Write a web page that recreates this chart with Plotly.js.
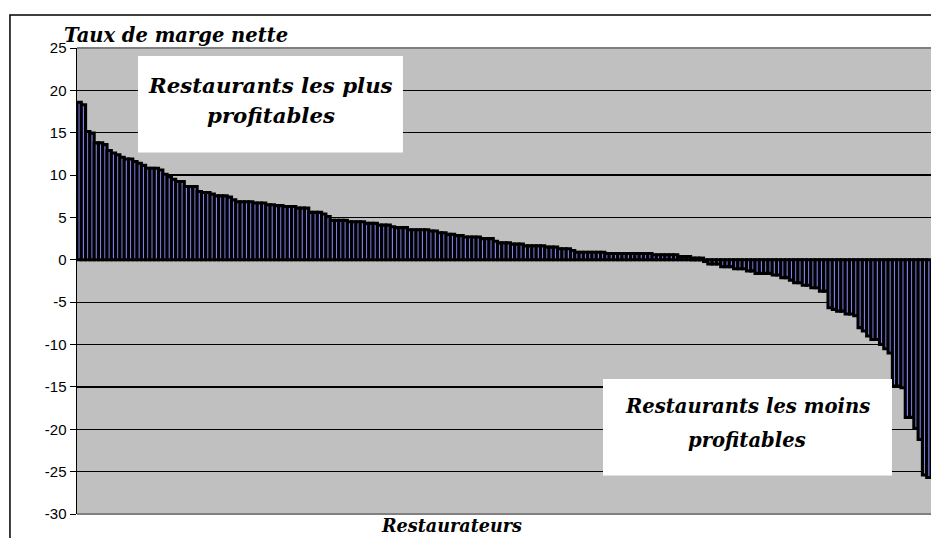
<!DOCTYPE html>
<html>
<head>
<meta charset="utf-8">
<script src="https://cdn.plot.ly/plotly-3.0.1.min.js"></script>
<style>
html,body{margin:0;padding:0;background:#fff;}
#chart{width:931px;height:538px;}
</style>
</head>
<body>
<div id="chart"></div>
<script>
// Taux de marge nette (%) par restaurateur, trié par ordre décroissant
const margesPositives = [
  18.6, 18.3, 15.15, 14.95, 13.8, 13.8, 13.6, 12.9, 12.6, 12.4, 12.1, 11.9, 11.9, 11.6, 11.4, 11.15,
  10.8, 10.8, 10.8, 10.6, 10.1, 9.8, 9.5, 9.25, 9.25, 8.65, 8.65, 8.65, 8.07, 7.95, 7.95, 7.75,
  7.55, 7.55, 7.55, 7.4, 7.08, 6.85, 6.85, 6.85, 6.85, 6.7, 6.7, 6.7, 6.5, 6.5, 6.4, 6.4,
  6.3, 6.3, 6.3, 6.1, 6.1, 6.1, 5.6, 5.6, 5.6, 5.4, 5.1, 4.65, 4.65, 4.65, 4.65, 4.5,
  4.5, 4.5, 4.5, 4.3, 4.3, 4.3, 4.1, 4.1, 4.1, 3.9, 3.8, 3.8, 3.8, 3.55, 3.55, 3.55,
  3.55, 3.55, 3.4, 3.4, 3.2, 3.2, 3.0, 3.0, 2.85, 2.85, 2.7, 2.7, 2.7, 2.7, 2.5, 2.5,
  2.5, 2.2, 2.0, 2.0, 2.0, 1.85, 1.85, 1.85, 1.65, 1.65, 1.65, 1.65, 1.65, 1.5, 1.5, 1.5,
  1.3, 1.3, 1.3, 1.1, 0.9, 0.9, 0.9, 0.9, 0.9, 0.9, 0.9, 0.75, 0.75, 0.75, 0.75, 0.75,
  0.75, 0.75, 0.75, 0.75, 0.75, 0.75, 0.6, 0.6, 0.6, 0.6, 0.6, 0.6, 0.4, 0.4, 0.4, 0.2,
  0.2, 0.2
];
const margesNegatives = [
  -0.2, -0.5, -0.5, -0.5, -0.8, -0.8, -0.8, -1.05, -1.05, -1.05, -1.3, -1.3, -1.6, -1.6, -1.6, -1.6,
  -1.8, -1.8, -2.1, -2.1, -2.4, -2.7, -2.7, -3.0, -3.0, -3.3, -3.3, -3.7, -3.7, -5.65, -5.85, -6.05,
  -6.05, -6.4, -6.4, -6.6, -8.0, -8.4, -9.0, -9.4, -9.4, -10.0, -10.5, -11.0, -14.9, -14.9, -15.1, -18.6,
  -18.6, -19.9, -21.2, -25.4, -25.7
];
const marges = margesPositives.concat(margesNegatives);
const restaurateurs = marges.map((_, i) => i + 1);
const yTicks = [-30, -25, -20, -15, -10, -5, 0, 5, 10, 15, 20, 25];

const serif = 'DejaVu Serif';
const sans = 'Arial';

function sf(size) {
  return {family: serif, size: size, color: '#000', weight: 'bold', style: 'italic'};
}

const trace = {
  type: 'bar',
  x: restaurateurs,
  y: marges,
  marker: {color: '#7f7fe8', line: {color: '#000000', width: 3.1}},
  hoverinfo: 'skip'
};

const layout = {
  width: 931, height: 538,
  margin: {l: 77, r: 0, t: 48, b: 24, pad: 0},
  paper_bgcolor: '#ffffff',
  plot_bgcolor: '#c0c0c0',
  bargap: 0,
  showlegend: false,
  xaxis: {
    range: [0.5, marges.length + 0.5],
    showticklabels: false, ticks: '', showgrid: false, zeroline: false, showline: false,
    fixedrange: true
  },
  yaxis: {
    range: [-30, 25],
    tickvals: yTicks,
    ticktext: yTicks.map(String),
    ticks: 'outside', ticklen: 6, tickwidth: 1, tickcolor: '#000',
    tickfont: {family: sans, size: 15, color: '#000'},
    showgrid: true, gridcolor: '#000', gridwidth: 1.3,
    zeroline: true, zerolinecolor: '#000', zerolinewidth: 1.5,
    showline: true, linecolor: '#000', linewidth: 1.5,
    fixedrange: true
  },
  shapes: [
    {type: 'line', xref: 'paper', yref: 'paper', x0: 0, x1: 1, y0: 1, y1: 1, line: {color: '#808080', width: 2}},
    {type: 'line', xref: 'paper', yref: 'paper', x0: 0, x1: 1, y0: 0, y1: 0, line: {color: '#808080', width: 2}},
    {type: 'rect', xref: 'paper', yref: 'paper', x0: 0.0714, x1: 0.3817, y0: 0.7757, y1: 0.9828,
     fillcolor: '#ffffff', line: {width: 0}, layer: 'above'},
    {type: 'rect', xref: 'paper', yref: 'paper', x0: 0.6159, x1: 0.9543, y0: 0.0826, y1: 0.2897,
     fillcolor: '#ffffff', line: {width: 0}, layer: 'above'},
    {type: 'rect', xref: 'paper', yref: 'paper', x0: -0.0785, x1: 1.2, y0: -0.3, y1: 1.0708,
     fillcolor: 'rgba(0,0,0,0)', line: {color: '#000', width: 1.5}, layer: 'above'}
  ],
  annotations: [
    {text: 'Taux de marge nette', xref: 'paper', yref: 'paper', x: -0.0176, y: 1.0258,
     xanchor: 'left', yanchor: 'middle', showarrow: false, font: sf(19.5)},
    {text: 'Restaurateurs', xref: 'paper', yref: 'paper', x: 0.439, y: -0.024,
     xanchor: 'center', yanchor: 'middle', showarrow: false, font: sf(17.6)},
    {text: 'Restaurants les plus', xref: 'paper', yref: 'paper', x: 0.2266, y: (514 - 85) / 466,
     xanchor: 'center', yanchor: 'middle', showarrow: false, font: sf(21.3)},
    {text: 'profitables', xref: 'paper', yref: 'paper', x: 0.2266, y: (514 - 115) / 466,
     xanchor: 'center', yanchor: 'middle', showarrow: false, font: sf(21.3)},
    {text: 'Restaurants les moins', xref: 'paper', yref: 'paper', x: (747 - 77) / 854, y: (514 - 406) / 466,
     xanchor: 'center', yanchor: 'middle', showarrow: false, font: sf(19.6)},
    {text: 'profitables', xref: 'paper', yref: 'paper', x: (747 - 77) / 854, y: (514 - 440) / 466,
     xanchor: 'center', yanchor: 'middle', showarrow: false, font: sf(19.6)}
  ]
};

Plotly.newPlot('chart', [trace], layout, {displayModeBar: false, staticPlot: true});
</script>
</body>
</html>
